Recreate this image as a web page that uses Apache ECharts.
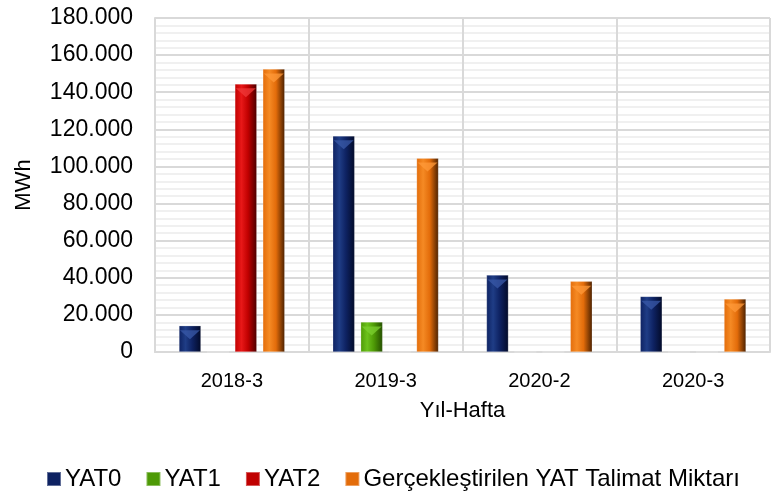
<!DOCTYPE html>
<html>
<head>
<meta charset="utf-8">
<script src="https://cdn.jsdelivr.net/npm/echarts@6/dist/echarts.min.js"></script>
<style>
html,body{margin:0;padding:0;background:#fff;}
#main{width:782px;height:499px;}
</style>
</head>
<body>
<div id="main"></div>
<script>
var categories = ['2018-3', '2019-3', '2020-2', '2020-3'];
var yat0 = [14200, 116500, 41500, 30000];
var yat1 = [0, 16200, 0, 0];
var yat2 = [144500, 0, 0, 0];
var gerceklesen = [152500, 104500, 38100, 28600];
var legends = ['YAT0', 'YAT1', 'YAT2', 'Gerçekleştirilen YAT Talimat Miktarı'];

// bevel look: bright band left of centre, dark right edge
function bevel(c){
	return new echarts.graphic.LinearGradient(0, 0, 1, 0, [
		{offset: 0, color: c[1]},
		{offset: 0.3, color: c[0]},
		{offset: 0.6, color: c[1]},
		{offset: 1, color: c[2]}
	]);
}
var palette = [
	['#1f3d86', '#0e2262', '#020a28'],
	['#6cc21c', '#4e9a06', '#244d00'],
	['#e81818', '#c00000', '#4a0000'],
	['#f58a24', '#e36c0a', '#4a2000']
];
var tops = ['#3a5aa8', '#7cd030', '#f03a3a', '#ff9a3a'];

function fmt(v){
	return String(v).replace(/\B(?=(\d{3})+(?!\d))/g, '.');
}

function loaddataes(){
	var datas = [yat0, yat1, yat2, gerceklesen];
	var arr = [];
	var i;
	for (i = 0; i < legends.length; i++) {
		arr.push({
			name: legends[i],
			type: 'bar',
			barWidth: 22,
			barGap: '27%',
			data: datas[i],
			itemStyle: {color: bevel(palette[i]), borderColor: 'rgba(255,255,255,0.35)', borderWidth: 0.6}
		});
	}
	// lighter triangle at the top of every bar
	for (i = 0; i < legends.length; i++) {
		arr.push({
			name: legends[i],
			type: 'pictorialBar',
			barWidth: 22,
			barGap: '27%',
			symbol: 'path://M0,0 L2,0 L1,1 Z',
			symbolSize: [20, 9],
			symbolPosition: 'end',
			symbolOffset: [0, '50%'],
			silent: true,
			z: 3,
			data: datas[i].map(function(v){ return v === 0 ? '-' : v; }),
			itemStyle: {color: tops[i], opacity: 0.75}
		});
	}
	return arr;
}

var myChart = echarts.init(document.getElementById('main'));
var option = {
	backgroundColor: '#fff',
	animation: false,
	textStyle: {fontFamily: 'Liberation Sans, Arial, sans-serif', color: '#000'},
	grid: {left: 155, right: 12, top: 18, bottom: 147},
	legend: {
		data: legends.map(function(n, i){ return {name: n, itemStyle: {color: palette[i][1]}}; }),
		bottom: 3,
		left: 41,
		itemWidth: 14,
		itemHeight: 14,
		itemGap: 24,
		icon: 'rect',
		textStyle: {fontSize: 24, color: '#000', padding: [0, 0, 0, -1]}
	},
	xAxis: {
		type: 'category',
		data: categories,
		name: 'Yıl-Hafta',
		nameLocation: 'middle',
		nameGap: 48,
		nameTextStyle: {fontSize: 22, color: '#000'},
		axisLine: {lineStyle: {color: '#d9d9d9', width: 2}},
		axisTick: {show: false},
		axisLabel: {fontSize: 20, color: '#000', margin: 19},
		splitLine: {show: true, interval: 0, lineStyle: {color: '#d9d9d9', width: 2}}
	},
	yAxis: {
		type: 'value',
		min: 0,
		max: 180000,
		interval: 20000,
		name: 'MWh',
		nameLocation: 'middle',
		nameGap: 120,
		nameTextStyle: {fontSize: 22, color: '#000'},
		axisLine: {show: true, lineStyle: {color: '#d9d9d9', width: 2}},
		axisTick: {show: false},
		axisLabel: {fontSize: 23, color: '#000', margin: 22, formatter: fmt},
		splitLine: {lineStyle: {color: '#d9d9d9', width: 2}},
		minorTick: {show: false, splitNumber: 5},
		minorSplitLine: {show: true, lineStyle: {color: '#f0f0f0', width: 2}}
	},
	series: loaddataes()
};
myChart.setOption(option, true);
</script>
</body>
</html>
